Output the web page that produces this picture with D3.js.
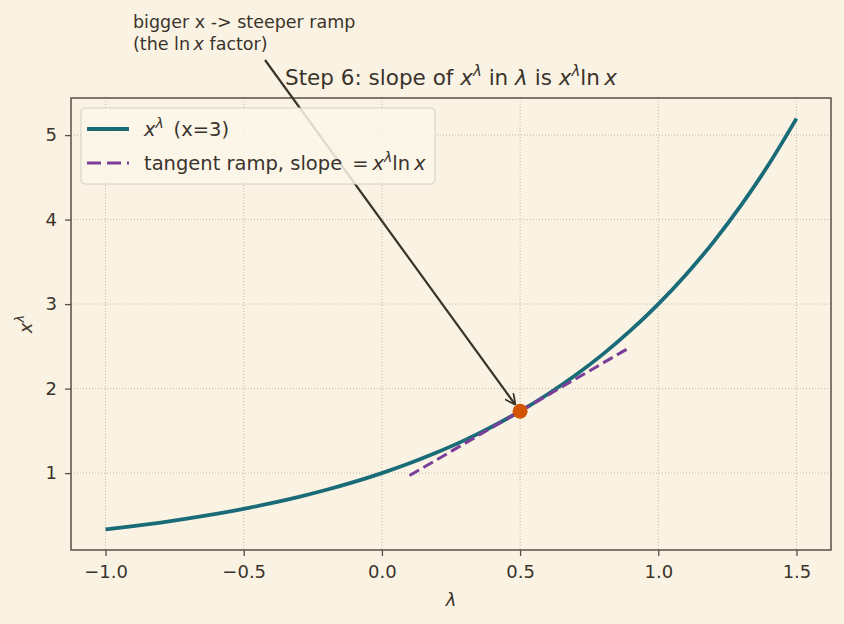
<!DOCTYPE html>
<html>
<head>
<meta charset="utf-8">
<script src="https://cdn.jsdelivr.net/npm/d3@7"></script>
<style>
  body { margin: 0; background: #faf3e3; }
  text { font-family: "DejaVu Sans", sans-serif; fill: #3a332c; }
</style>
</head>
<body>
<div id="chart"></div>
<script>
// curve x^lambda with x = 3
var lambdas = [-1.0, -0.9, -0.8, -0.7, -0.6, -0.5, -0.4, -0.3, -0.2, -0.1, 0.0, 0.1, 0.2,
  0.3, 0.4, 0.5, 0.6, 0.7, 0.8, 0.9, 1.0, 1.1, 1.2, 1.3, 1.4, 1.5];
var powers = [0.333, 0.372, 0.415, 0.463, 0.517, 0.577, 0.644, 0.719, 0.803, 0.896, 1.000, 1.116, 1.246,
  1.390, 1.552, 1.732, 1.933, 2.158, 2.408, 2.688, 3.000, 3.348, 3.737, 4.171, 4.655, 5.196];
// tangent ramp endpoints
var tangentL = [0.1, 0.9];
var tangentY = [0.971, 2.493];
// point of tangency
var pointL = 0.5, pointY = 1.732;
var xTicks = [-1.0, -0.5, 0.0, 0.5, 1.0, 1.5];
var yTicks = [1, 2, 3, 4, 5];

var W = 844, H = 624;
var margin = { top: 98, right: 13, bottom: 74, left: 71 };
var width = W - margin.left - margin.right;
var height = H - margin.top - margin.bottom;

var svg = d3.select("#chart").append("svg")
  .attr("width", W).attr("height", H)
  .style("background", "#faf3e3");

var defs = svg.append("defs");
defs.append("marker")
  .attr("id", "arrow")
  .attr("viewBox", "0 0 10 10")
  .attr("refX", 10).attr("refY", 5)
  .attr("markerWidth", 5).attr("markerHeight", 5)
  .attr("markerUnits", "strokeWidth")
  .attr("orient", "auto")
  .append("path")
  .attr("d", "M0,0 L10,5 L0,10")
  .attr("fill", "none")
  .attr("stroke", "#3a332c")
  .attr("stroke-width", 1.6);

var g = svg.append("g")
  .attr("transform", "translate(" + margin.left + "," + margin.top + ")");

var x = d3.scaleLinear().domain([-1.125, 1.625]).range([0, width]);
var y = d3.scaleLinear().domain([0.09, 5.439]).range([height, 0]);

// grid
g.append("g").selectAll("line").data(xTicks).enter().append("line")
  .attr("x1", d => x(d)).attr("x2", d => x(d))
  .attr("y1", 0).attr("y2", height)
  .attr("stroke", "#b5ab9c").attr("stroke-width", 0.8)
  .attr("stroke-dasharray", "1,2");
g.append("g").selectAll("line").data(yTicks).enter().append("line")
  .attr("y1", d => y(d)).attr("y2", d => y(d))
  .attr("x1", 0).attr("x2", width)
  .attr("stroke", "#b5ab9c").attr("stroke-width", 0.8)
  .attr("stroke-dasharray", "1,2");

// axes
var xAxis = g.append("g")
  .attr("transform", "translate(0," + height + ")")
  .call(d3.axisBottom(x).tickValues(xTicks).tickSize(6).tickPadding(9)
    .tickFormat(d => d3.format(".1f")(d).replace("-", "\u2212")));
var yAxis = g.append("g")
  .call(d3.axisLeft(y).tickValues(yTicks).tickSize(6).tickPadding(8).tickFormat(d3.format("d")));
[xAxis, yAxis].forEach(function (a) {
  a.select(".domain").remove();
  a.selectAll(".tick line").attr("stroke", "#5a5046").attr("stroke-width", 1.3);
  a.selectAll(".tick text").attr("font-size", 18).attr("fill", "#3a332c")
    .attr("font-family", "DejaVu Sans, sans-serif");
});

g.append("rect")
  .attr("width", width).attr("height", height)
  .attr("fill", "none").attr("stroke", "#5a5046").attr("stroke-width", 1.5);

// curve
var line = d3.line().x(d => x(d[0])).y(d => y(d[1])).curve(d3.curveMonotoneX);
g.append("path")
  .datum(d3.zip(lambdas, powers))
  .attr("d", line)
  .attr("fill", "none").attr("stroke", "#1a6b78").attr("stroke-width", 3.8);

// tangent
g.append("path")
  .datum(d3.zip(tangentL, tangentY))
  .attr("d", d3.line().x(d => x(d[0])).y(d => y(d[1])))
  .attr("fill", "none").attr("stroke", "#7b3f9a").attr("stroke-width", 3)
  .attr("stroke-dasharray", "11,5");

// point
g.append("circle")
  .attr("cx", x(pointL)).attr("cy", y(pointY)).attr("r", 7.5)
  .attr("fill", "#d35400");

// annotation arrow
var sx = 265 - margin.left, sy = 60 - margin.top;
var ex = x(pointL), ey = y(pointY);
var dx = ex - sx, dy = ey - sy, len = Math.sqrt(dx * dx + dy * dy);
var shrink = 8;
g.append("line")
  .attr("x1", sx).attr("y1", sy)
  .attr("x2", ex - dx / len * shrink).attr("y2", ey - dy / len * shrink)
  .attr("stroke", "#3a332c").attr("stroke-width", 2.2)
  .attr("marker-end", "url(#arrow)");

// annotation text
svg.append("text").attr("x", 133).attr("y", 28).attr("font-size", 17.5)
  .text("bigger x -> steeper ramp");
var ann2 = svg.append("text").attr("x", 133).attr("y", 50).attr("font-size", 17.5);
ann2.append("tspan").text("(the ln");
ann2.append("tspan").attr("font-style", "italic").text("\u2009x");
ann2.append("tspan").text(" factor)");

// title
var title = svg.append("text")
  .attr("x", margin.left + width / 2).attr("y", 85)
  .attr("text-anchor", "middle").attr("font-size", 21.5);
title.append("tspan").text("Step 6: slope of ");
title.append("tspan").attr("font-style", "italic").text("x");
title.append("tspan").attr("font-style", "italic").attr("font-size", 15).attr("dy", -9).text("\u03bb");
title.append("tspan").attr("dy", 9).text(" in ");
title.append("tspan").attr("font-style", "italic").text("\u03bb");
title.append("tspan").text(" is ");
title.append("tspan").attr("font-style", "italic").text("x");
title.append("tspan").attr("font-style", "italic").attr("font-size", 15).attr("dy", -9).text("\u03bb");
title.append("tspan").attr("dy", 9).text("ln\u2009");
title.append("tspan").attr("font-style", "italic").text("x");

// axis labels
svg.append("text")
  .attr("x", margin.left + width / 2).attr("y", 606)
  .attr("text-anchor", "middle").attr("font-size", 18)
  .attr("font-style", "italic").text("\u03bb");
var yl = svg.append("text")
  .attr("transform", "translate(32," + (margin.top + height / 2) + ") rotate(-90)")
  .attr("text-anchor", "middle").attr("font-size", 18);
yl.append("tspan").attr("font-style", "italic").text("x");
yl.append("tspan").attr("font-style", "italic").attr("font-size", 13).attr("dy", -8).text("\u03bb");

// legend
var lg = g.append("g").attr("transform", "translate(10,10)");
lg.append("rect")
  .attr("width", 354).attr("height", 76).attr("rx", 4)
  .attr("fill", "#fbf6ea").attr("fill-opacity", 0.85)
  .attr("stroke", "#d6d0c4").attr("stroke-width", 1);
lg.append("line").attr("x1", 6).attr("x2", 48).attr("y1", 21).attr("y2", 21)
  .attr("stroke", "#1a6b78").attr("stroke-width", 3.8);
lg.append("line").attr("x1", 6).attr("x2", 48).attr("y1", 55).attr("y2", 55)
  .attr("stroke", "#7b3f9a").attr("stroke-width", 3).attr("stroke-dasharray", "14,6");
var t1 = lg.append("text").attr("x", 63).attr("y", 28).attr("font-size", 19.5);
t1.append("tspan").attr("font-style", "italic").text("x");
t1.append("tspan").attr("font-style", "italic").attr("font-size", 14).attr("dy", -8).text("\u03bb");
t1.append("tspan").attr("dy", 8).text("\u2002(x=3)");
var t2 = lg.append("text").attr("x", 63).attr("y", 62).attr("font-size", 19.5);
t2.append("tspan").text("tangent ramp, slope \u2009=\u2009");
t2.append("tspan").attr("font-style", "italic").text("x");
t2.append("tspan").attr("font-style", "italic").attr("font-size", 14).attr("dy", -8).text("\u03bb");
t2.append("tspan").attr("dy", 8).text("ln\u2009");
t2.append("tspan").attr("font-style", "italic").text("x");
</script>
</body>
</html>
